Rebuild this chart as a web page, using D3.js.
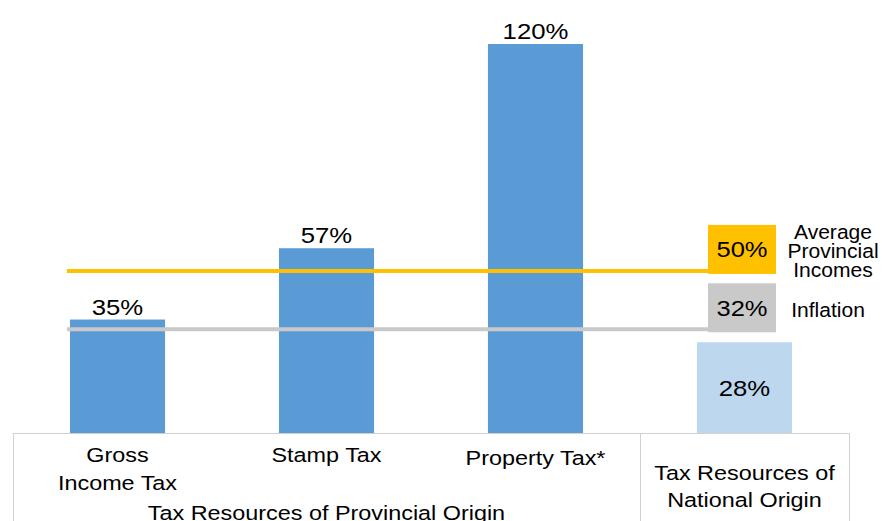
<!DOCTYPE html>
<html>
<head>
<meta charset="utf-8">
<script src="https://cdn.jsdelivr.net/npm/d3@7"></script>
<style>
  body { margin: 0; background: #fff; }
  text { font-family: "Liberation Sans", Arial, sans-serif; fill: #000; }
</style>
</head>
<body>
<div id="chart"></div>
<script>
// data
var categories = ["Gross Income Tax", "Stamp Tax", "Property Tax*", "National"];
var catLines = [["Gross", "Income Tax"], ["Stamp Tax"], ["Property Tax*"], []];
var values = [35, 57, 120, 28];
var refNames = ["Average Provincial Incomes", "Inflation"];
var refLabelLines = [["Average", "Provincial", "Incomes"], ["Inflation"]];
var refValues = [50, 32];
var groupNames = ["Tax Resources of Provincial Origin", "Tax Resources of National Origin"];
var groupLines = [["Tax Resources of Provincial Origin"], ["Tax Resources of", "National Origin"]];

var width = 882, height = 521;

var svg = d3.select("#chart").append("svg")
  .attr("width", width)
  .attr("height", height);

// text helper: the source picture is a bit stretched sideways, so text gets a scaleX
function label(lines, cx, baseline, size, sx, lineH) {
  var t = svg.append("text")
    .attr("transform", "translate(" + cx + "," + baseline + ") scale(" + sx + ",1)")
    .attr("text-anchor", "middle")
    .attr("font-size", size + "px");
  t.selectAll("tspan")
    .data(lines)
    .enter()
    .append("tspan")
    .attr("x", 0)
    .attr("dy", function (d, j) { return j === 0 ? 0 : lineH; })
    .text(function (d) { return d; });
  return t;
}

// scales
var x = d3.scaleBand()
  .domain(categories)
  .range([13, 849])
  .paddingInner(0.545)
  .paddingOuter(0.2725);

var y = d3.scaleLinear().domain([0, 120]).range([433, 44]);

var barColors = ["#5b9bd5", "#5b9bd5", "#5b9bd5", "#bdd7ee"];
var refColors = ["#ffc000", "#c9c9c9"];

// bars
svg.selectAll(".bar")
  .data(values)
  .enter()
  .append("rect")
  .attr("class", "bar")
  .attr("x", function (d, i) { return x(categories[i]); })
  .attr("width", x.bandwidth())
  .attr("y", function (d) { return y(d); })
  .attr("height", function (d) { return y(0) - y(d); })
  .attr("fill", function (d, i) { return barColors[i]; });

// value labels (first three above bars, last one inside)
values.forEach(function (d, i) {
  var cx = x(categories[i]) + x.bandwidth() / 2;
  var by = i < 3 ? y(d) - 5 : (y(d) + y(0)) / 2 + 8;
  label([d + "%"], cx, by, 22, 1.17, 0);
});

// reference lines + boxes
var lineStart = x(categories[0]) - 3;
var boxX = 708, boxW = 68, boxH = 49;

refValues.forEach(function (v, i) {
  svg.append("line")
    .attr("x1", lineStart)
    .attr("x2", boxX)
    .attr("y1", y(v))
    .attr("y2", y(v))
    .attr("stroke", refColors[i])
    .attr("stroke-width", 4);

  var boxTop = y(v) + 3 - boxH;
  var boxMid = boxTop + boxH / 2;
  svg.append("rect")
    .attr("x", boxX)
    .attr("y", boxTop)
    .attr("width", boxW)
    .attr("height", boxH)
    .attr("fill", refColors[i]);

  label([v + "%"], boxX + boxW / 2, boxMid + 8, 22, 1.16, 0);

  // side legend text, tight line spacing like the original
  var lines = refLabelLines[i];
  var cx = lines.length > 1 ? 833 : 828;
  label(lines, cx, boxMid + 9 - (lines.length - 1) * 19 / 2, 19.5, 1.08, 19);
});

// table under the axis
var gridColor = "#d0d0d0";
var divX = Math.round((x(categories[2]) + x.bandwidth() + x(categories[3])) / 2);
svg.append("line")
  .attr("x1", 13).attr("x2", 849)
  .attr("y1", y(0) + 0.5).attr("y2", y(0) + 0.5)
  .attr("stroke", gridColor);
[13, divX, 849].forEach(function (xx) {
  svg.append("line")
    .attr("x1", xx + 0.5).attr("x2", xx + 0.5)
    .attr("y1", y(0)).attr("y2", height)
    .attr("stroke", gridColor);
});

// category labels
catLines.forEach(function (lines, i) {
  if (!lines.length) return;
  label(lines, x(categories[i]) + x.bandwidth() / 2, i === 2 ? 465 : 461.5, 19.5, 1.2, 28.5);
});

// group labels
label(groupLines[0], (13 + divX) / 2, 519.5, 19.5, 1.2, 0);
label(groupLines[1], (divX + 849) / 2, 480, 19.5, 1.2, 27);
</script>
</body>
</html>
